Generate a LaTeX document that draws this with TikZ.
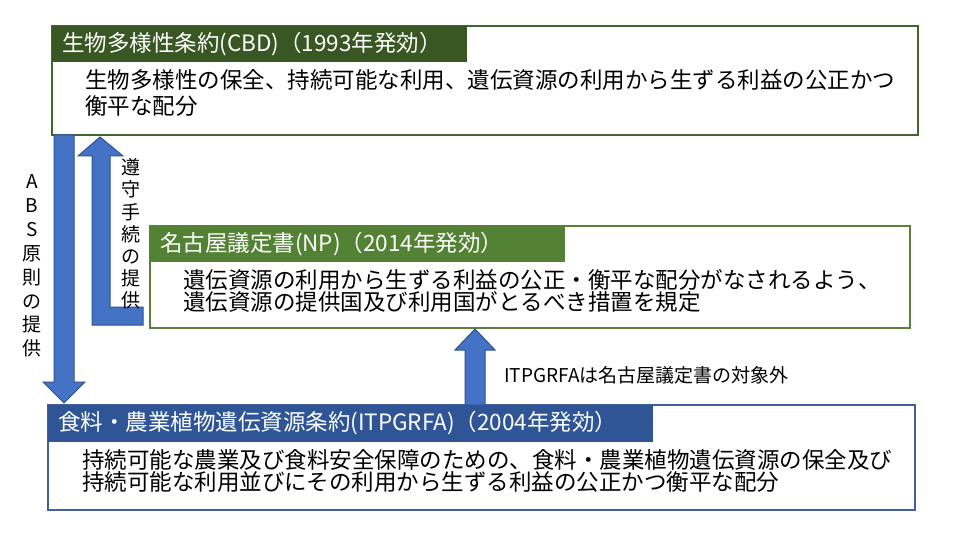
\documentclass[tikz,border=0pt]{standalone}
\usepackage{fontspec}
\setmainfont{Noto Sans CJK JP}
\usetikzlibrary{calc}
\definecolor{cbdhead}{HTML}{385723}
\definecolor{cbdline}{HTML}{44652C}
\definecolor{nphead}{HTML}{548235}
\definecolor{npline}{HTML}{5A8040}
\definecolor{itphead}{HTML}{2F5597}
\definecolor{itpline}{HTML}{41609A}
\definecolor{arrfill}{HTML}{4472C4}
\definecolor{arrline}{HTML}{2F528F}
\tikzset{
  box/.style={draw, line width=1.5pt, fill=white, rectangle, outer sep=0pt, inner sep=0pt, anchor=north west},
  head/.style={rectangle, outer sep=0pt, inner xsep=10pt, inner ysep=0pt, anchor=north west, text=white, align=left,
    font=\fontsize{22.5}{26}\selectfont},
  bodytext/.style={anchor=base west, inner sep=0pt, align=left},
  barrow/.style={fill=arrfill, draw=arrline, line width=1pt, line join=miter},
  lab/.style={inner sep=0pt, font=\fontsize{19}{22}\selectfont},
}
\begin{document}
\begin{tikzpicture}[x=1pt,y=-1pt]
\useasboundingbox (0,0) rectangle (960,540);
\fill[white] (0,0) rectangle (960,540);
% CBD
\node[box, draw=cbdline, minimum width=866pt, minimum height=109pt] (cbd) at (52,26) {};
\node[head, fill=cbdhead, minimum width=415pt, minimum height=36pt, text width=395pt] (cbdh) at (52,26) {生物多様性条約(CBD)（1993年発効）};
\node[bodytext, font=\fontsize{22.5}{26}\selectfont] (cbdt) at (85,114.5) {生物多様性の保全、持続可能な利用、遺伝資源の利用から生ずる利益の公正かつ\\衡平な配分};
% NP
\node[box, draw=npline, minimum width=760pt, minimum height=102pt] (np) at (150,226) {};
\node[head, fill=nphead, minimum width=415pt, minimum height=36pt, text width=395pt] (nph) at (150,226) {名古屋議定書(NP)（2014年発効）};
\node[bodytext, font=\fontsize{22.5}{22.5}\selectfont] (npt) at (183,310.5) {遺伝資源の利用から生ずる利益の公正・衡平な配分がなされるよう、\\遺伝資源の提供国及び利用国がとるべき措置を規定};
% ITPGRFA
\node[box, draw=itpline, minimum width=867pt, minimum height=105pt] (itp) at (48,405) {};
\node[head, fill=itphead, minimum width=605pt, minimum height=37pt, text width=585pt] (itph) at (48,405) {食料・農業植物遺伝資源条約(ITPGRFA)（2004年発効）};
\node[bodytext, font=\fontsize{22.5}{22.5}\selectfont] (itpt) at (82,490.5) {持続可能な農業及び食料安全保障のための、食料・農業植物遺伝資源の保全及び\\持続可能な利用並びにその利用から生ずる利益の公正かつ衡平な配分};
% ABS arrow (down)
\draw[barrow] ($(cbd.south west)+(2,0)$) -- ++(20,0) -- ($(itp.north west)+(26,-23)$) -- ++(11,0)
  -- ($(itp.north west)+(16,-2)$) -- ++(-21,-21) -- ++(11,0) -- cycle;
% compliance arrow (up, L-shaped)
\draw[barrow] ($(np.south west)+(-7,-21)$) -- ($(cbd.south west)+(58,172)$) -- ($(cbd.south west)+(58,21)$)
  -- ++(13,0) -- ($(cbd.south west)+(48,2)$) -- ++(-22,19) -- ++(14,0) -- ($(np.south west)+(-58,-3)$)
  -- ($(np.south west)+(-7,-3)$) -- cycle;
% NP arrow (up)
\coordinate (npa) at ($(np.south west)+(325,1)$);
\coordinate (npb) at (npa |- itp.north);
\draw[barrow] ($(npb)+(-10,0)$) -- ($(npa)+(-10,21)$) -- ++(-10,0) -- (npa) -- ++(20,21) -- ++(-10,0)
  -- ($(npb)+(10,0)$) -- cycle;
% labels
\node[lab, align=center, font=\fontsize{19}{23.9}\selectfont] (abslab) at (32,266) {A\\B\\S\\原\\則\\の\\提\\供};
\node[lab, align=center, font=\fontsize{19}{22.2}\selectfont] (complab) at (131,234) {遵\\守\\手\\続\\の\\提\\供};
\node[lab, anchor=west] (exlab) at (504,375) {ITPGRFAは名古屋議定書の対象外};
\end{tikzpicture}
\end{document}
